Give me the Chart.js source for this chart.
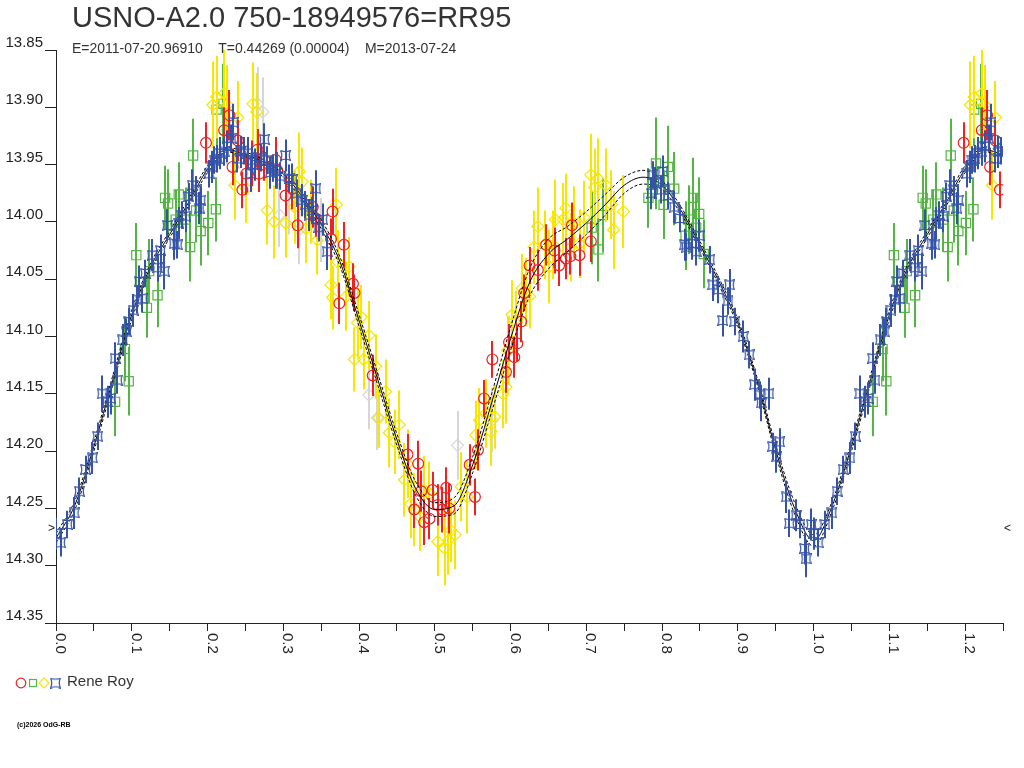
<!DOCTYPE html>
<html>
<head>
<meta charset="utf-8">
<title>USNO-A2.0 750-18949576=RR95</title>
<script src="https://cdn.jsdelivr.net/npm/chart.js@4.4.1/dist/chart.umd.min.js"></script>
<style>
  body { margin: 0; background: #fff; }
  #wrap { position: relative; width: 1024px; height: 768px; font-family: "Liberation Sans", Arial, sans-serif; color: #333; }
  #chart { position: absolute; left: 0; top: 0; }
  .txt { position: absolute; white-space: pre; line-height: 1; }
  #title { left: 72px; top: 3px; font-size: 29px; }
  #sub { left: 72px; top: 41px; font-size: 14px; }
  #who { left: 67px; top: 673px; font-size: 15px; }
  #copy { left: 17px; top: 721px; font-size: 7px; font-weight: bold; color: #000; }
</style>
</head>
<body>
<div id="wrap">
  <canvas id="chart" width="1024" height="768"></canvas>
  <div class="txt" id="title">USNO-A2.0 750-18949576=RR95</div>
  <div class="txt" id="sub">E=2011-07-20.96910    T=0.44269 (0.00004)    M=2013-07-24</div>
  <div class="txt" id="who">Rene Roy</div>
  <div class="txt" id="copy">(c)2026 OdG-RB</div>
</div>
<script>
// observations, phase folded (phase 0..1), one set per observer symbol
const redPhase = [0.198,0.222,0.229,0.233,0.240,0.246,0.251,0.259,0.266,0.268,
  0.275,0.290,0.292,0.303,0.312,0.319,0.339,0.343,0.363,0.365,
  0.374,0.380,0.392,0.394,0.418,0.464,0.473,0.478,0.482,0.486,
  0.493,0.497,0.504,0.510,0.515,0.519,0.546,0.553,0.557,0.565,
  0.576,0.594,0.598,0.605,0.609,0.614,0.618,0.625,0.636,0.647,
  0.658,0.664,0.673,0.679,0.681,0.691,0.706];
const redMag = [13.931,13.920,13.907,13.952,13.929,13.972,13.958,13.949,13.937,13.958,
  13.946,13.946,13.955,13.977,13.971,14.003,13.987,13.997,14.015,13.991,
  14.071,14.020,14.054,14.062,14.134,14.203,14.251,14.211,14.235,14.262,
  14.259,14.234,14.247,14.251,14.232,14.250,14.212,14.240,14.199,14.154,
  14.120,14.131,14.105,14.118,14.106,14.087,14.062,14.038,14.042,14.020,
  14.025,14.038,14.032,14.030,14.003,14.029,14.017];
const redErr = [0.018,0.020,0.022,0.016,0.018,0.016,0.018,0.020,0.018,0.016,
  0.018,0.020,0.016,0.018,0.018,0.020,0.018,0.016,0.018,0.020,
  0.018,0.020,0.018,0.016,0.018,0.018,0.016,0.020,0.018,0.020,
  0.018,0.016,0.018,0.020,0.018,0.022,0.018,0.016,0.018,0.016,
  0.016,0.018,0.016,0.018,0.016,0.018,0.016,0.016,0.018,0.018,
  0.020,0.018,0.018,0.016,0.020,0.018,0.018];

const greenPhase = [0.078,0.091,0.096,0.106,0.120,0.123,0.134,0.144,0.148,0.158,
  0.162,0.171,0.177,0.181,0.185,0.191,0.201,0.211,0.212,0.221,
  0.707,0.716,0.722,0.782,0.792,0.802,0.808,0.816,0.831,0.835,
  0.841,0.845,0.849,0.855];
const greenMag = [14.157,14.111,14.139,14.029,14.075,14.043,14.064,13.979,13.984,13.998,
  13.976,13.998,14.022,13.942,13.990,14.008,14.001,13.989,13.902,13.897,
  14.005,14.024,13.994,13.979,13.949,13.985,13.952,13.971,14.012,13.998,
  13.979,14.005,13.993,14.028];
const greenErr = [0.030,0.028,0.030,0.028,0.026,0.028,0.028,0.028,0.030,0.026,
  0.028,0.028,0.030,0.032,0.028,0.030,0.028,0.028,0.032,0.035,
  0.032,0.028,0.032,0.026,0.040,0.030,0.036,0.032,0.030,0.030,
  0.035,0.030,0.032,0.030];

const yellowPhase = [0.207,0.212,0.222,0.226,0.236,0.240,0.251,0.260,0.265,0.279,
  0.288,0.303,0.315,0.321,0.325,0.330,0.336,0.345,0.363,0.365,
  0.370,0.372,0.383,0.387,0.394,0.398,0.403,0.406,0.413,0.422,
  0.426,0.435,0.440,0.447,0.453,0.460,0.464,0.468,0.473,0.480,
  0.486,0.493,0.504,0.513,0.518,0.521,0.527,0.535,0.543,0.554,
  0.559,0.568,0.574,0.579,0.590,0.594,0.596,0.602,0.607,0.615,
  0.620,0.625,0.631,0.636,0.645,0.651,0.656,0.659,0.669,0.673,
  0.680,0.684,0.691,0.697,0.706,0.711,0.715,0.726,0.733,0.736,
  0.749];
const yellowMag = [13.898,13.891,13.888,13.898,13.968,13.909,13.971,13.897,13.904,13.990,
  14.000,14.001,13.987,13.956,13.965,14.006,13.991,14.016,14.055,14.066,
  13.985,14.035,14.065,14.039,14.120,14.088,14.083,14.120,14.099,14.126,
  14.171,14.148,14.184,14.192,14.177,14.225,14.211,14.246,14.251,14.257,
  14.234,14.237,14.279,14.285,14.278,14.269,14.273,14.231,14.240,14.186,
  14.173,14.167,14.183,14.170,14.150,14.144,14.112,14.081,14.088,14.058,
  14.061,14.065,14.022,14.004,14.020,14.039,14.020,13.998,13.998,13.988,
  14.022,14.001,14.019,13.996,13.959,13.970,13.962,13.968,13.985,14.007,
  13.991];
const yellowErr = [0.038,0.036,0.040,0.035,0.030,0.032,0.030,0.036,0.034,0.030,
  0.032,0.030,0.032,0.034,0.030,0.030,0.028,0.030,0.030,0.028,
  0.032,0.028,0.030,0.026,0.028,0.030,0.028,0.026,0.030,0.028,
  0.026,0.028,0.030,0.028,0.030,0.032,0.030,0.030,0.032,0.030,
  0.030,0.028,0.030,0.032,0.030,0.028,0.030,0.030,0.032,0.030,
  0.028,0.030,0.030,0.028,0.030,0.032,0.030,0.030,0.028,0.030,
  0.030,0.028,0.032,0.034,0.030,0.032,0.030,0.035,0.032,0.030,
  0.030,0.032,0.030,0.032,0.036,0.034,0.035,0.032,0.030,0.034,
  0.032];

const bluePhase = [0.000,0.006,0.015,0.024,0.031,0.039,0.048,0.055,0.061,0.068,
  0.072,0.078,0.081,0.088,0.093,0.096,0.102,0.107,0.110,0.114,
  0.118,0.127,0.134,0.138,0.143,0.147,0.156,0.160,0.162,0.166,
  0.171,0.175,0.180,0.185,0.189,0.191,0.202,0.206,0.209,0.213,
  0.217,0.222,0.226,0.231,0.234,0.239,0.244,0.248,0.253,0.257,
  0.259,0.263,0.270,0.275,0.279,0.283,0.286,0.290,0.296,0.303,
  0.308,0.312,0.318,0.325,0.329,0.334,0.338,0.343,0.347,0.352,
  0.358,
  0.786,0.788,0.790,0.799,0.801,0.808,0.816,0.823,0.830,0.832,
  0.840,0.845,0.849,0.863,0.867,0.874,0.880,0.887,0.889,0.896,
  0.907,0.915,0.922,0.929,0.931,0.941,0.946,0.951,0.955,0.964,
  0.968,0.977,0.982,0.988,0.990,0.997];
const blueMag = [14.272,14.280,14.264,14.254,14.235,14.216,14.206,14.187,14.150,14.157,
  14.154,14.119,14.138,14.103,14.096,14.087,14.077,14.068,14.052,14.067,
  14.045,14.029,14.040,14.025,14.043,14.003,14.019,14.020,14.001,13.994,
  13.995,13.978,13.968,13.972,13.988,13.981,13.958,13.952,13.946,13.945,
  13.940,13.939,13.934,13.927,13.913,13.945,13.939,13.938,13.940,13.958,
  13.946,13.950,13.944,13.928,13.946,13.957,13.953,13.955,13.960,13.942,
  13.962,13.963,13.975,13.981,13.985,13.994,13.990,13.971,14.005,13.998,
  14.026,
  13.975,13.959,13.966,13.972,13.956,13.977,13.987,13.997,14.020,14.022,
  14.019,14.026,14.012,14.033,14.055,14.059,14.086,14.069,14.055,14.087,
  14.100,14.116,14.142,14.151,14.158,14.150,14.196,14.205,14.192,14.240,
  14.263,14.256,14.264,14.285,14.294,14.264];
const blueErr = [0.014,0.012,0.012,0.014,0.012,0.012,0.014,0.012,0.016,0.014,
  0.014,0.014,0.012,0.014,0.012,0.012,0.014,0.012,0.014,0.012,
  0.012,0.014,0.012,0.014,0.016,0.014,0.014,0.012,0.014,0.012,
  0.014,0.012,0.014,0.012,0.014,0.012,0.012,0.014,0.012,0.012,
  0.014,0.012,0.014,0.012,0.016,0.012,0.014,0.012,0.014,0.016,
  0.012,0.014,0.012,0.014,0.012,0.014,0.012,0.016,0.012,0.014,
  0.012,0.014,0.012,0.014,0.012,0.014,0.012,0.016,0.012,0.014,
  0.016,
  0.014,0.012,0.014,0.012,0.014,0.012,0.014,0.012,0.014,0.012,
  0.014,0.012,0.014,0.012,0.014,0.012,0.014,0.012,0.014,0.012,
  0.014,0.012,0.014,0.012,0.016,0.014,0.012,0.014,0.012,0.014,
  0.012,0.014,0.012,0.014,0.016,0.014];

// rejected points (pale grey)
const greyPhase = [0.226,0.266,0.273,0.295,0.308,0.321,0.350,0.413,0.424,0.530,0.576,0.598];
const greyMag = [13.920,13.897,13.904,13.994,13.981,14.007,14.007,14.151,14.171,14.195,14.173,14.112];
const greyErr = [0.030,0.032,0.030,0.028,0.030,0.030,0.028,0.030,0.028,0.030,0.028,0.030];

// fitted light curve and its envelope
const fitPhase = [0.000,0.025,0.050,0.075,0.100,0.125,0.150,0.175,0.200,0.225,
  0.250,0.275,0.300,0.325,0.350,0.375,0.400,0.425,0.450,0.475,
  0.500,0.525,0.550,0.575,0.600,0.625,0.650,0.675,0.700,0.725,
  0.750,0.775,0.800,0.825,0.850,0.875,0.900,0.925,0.950,0.975,
  1.000,1.025,1.050,1.075,1.100,1.125,1.150,1.175,1.200,1.225,1.250];
const fitMag = [14.276,14.247,14.196,14.138,14.081,14.039,14.011,13.983,13.954,13.937,
  13.941,13.948,13.958,13.978,14.002,14.035,14.086,14.138,14.190,14.233,
  14.251,14.248,14.212,14.158,14.102,14.053,14.028,14.015,14.001,13.985,
  13.968,13.961,13.968,13.990,14.020,14.052,14.088,14.138,14.199,14.250,
  14.278,14.247,14.196,14.138,14.081,14.039,14.011,13.983,13.954,13.937,13.941];
const fitUpper = [14.272,14.243,14.192,14.134,14.077,14.036,14.008,13.980,13.951,13.935,
  13.939,13.946,13.955,13.975,13.998,14.031,14.081,14.133,14.185,14.227,
  14.245,14.241,14.205,14.150,14.092,14.041,14.015,14.004,13.991,13.976,
  13.961,13.955,13.964,13.987,14.017,14.049,14.085,14.135,14.195,14.245,
  14.273,14.243,14.192,14.134,14.077,14.036,14.008,13.980,13.951,13.935,13.939];
const fitLower = [14.280,14.251,14.200,14.142,14.085,14.042,14.014,13.986,13.957,13.939,
  13.943,13.950,13.961,13.981,14.006,14.039,14.091,14.143,14.195,14.239,
  14.257,14.255,14.219,14.166,14.112,14.065,14.041,14.026,14.011,13.994,
  13.975,13.967,13.972,13.993,14.023,14.055,14.091,14.141,14.203,14.255,
  14.283,14.251,14.200,14.142,14.085,14.042,14.014,13.986,13.957,13.939,13.943];

const xTickValues = [0,0.05,0.1,0.15,0.2,0.25,0.3,0.35,0.4,0.45,0.5,0.55,0.6,0.65,
  0.7,0.75,0.8,0.85,0.9,0.95,1.0,1.05,1.1,1.15,1.2,1.25];
const xLabelValues = [0,0.1,0.2,0.3,0.4,0.5,0.6,0.7,0.8,0.9,1.0,1.1,1.2];
const xLabels = ['0.0','0.1','0.2','0.3','0.4','0.5','0.6','0.7','0.8','0.9','1.0','1.1','1.2'];
const yTickValues = [13.85,13.90,13.95,14.00,14.05,14.10,14.15,14.20,14.25,14.30,14.35];
const limitMag = 14.268;

const RED = '#ee2222', GREEN = '#55b544', YELLOW = '#f6e600', BLUE = '#3553a8', GREY = '#d6d6d6';
const AXIS = '#222';
const FONT = '"Liberation Sans", Arial, sans-serif';
const PHASE_MAX = 1.25;

// the cycle is shown once more past phase 1
function fold(phase, mag, err) {
  const pts = [];
  phase.forEach((p, i) => {
    pts.push({ x: p, y: mag[i], e: err[i] });
    if (p + 1 <= PHASE_MAX) pts.push({ x: p + 1, y: mag[i], e: err[i] });
  });
  return pts;
}

// blue observer symbol: a square with pinched sides and pointed corners
function makeBlueMark() {
  const c = document.createElement('canvas');
  c.width = 11; c.height = 11;
  const g = c.getContext('2d');
  g.strokeStyle = BLUE;
  g.lineWidth = 1.2;
  g.beginPath();
  g.moveTo(0.5, 0.5);
  g.quadraticCurveTo(5.5, 3, 10.5, 0.5);
  g.quadraticCurveTo(8, 5.5, 10.5, 10.5);
  g.quadraticCurveTo(5.5, 8, 0.5, 10.5);
  g.quadraticCurveTo(3, 5.5, 0.5, 0.5);
  g.stroke();
  return c;
}
const blueMark = makeBlueMark();

function obsSet(label, pts, color, style, radius, order) {
  return {
    label, data: pts, showLine: false, order,
    pointStyle: style, pointRadius: radius, pointHoverRadius: radius,
    pointBorderColor: color, pointBackgroundColor: 'rgba(0,0,0,0)', pointBorderWidth: 1.2,
    errColor: color
  };
}

function fitSet(values, dash) {
  return {
    type: 'line', data: fitPhase.map((p, i) => ({ x: p, y: values[i] })),
    borderColor: '#000', borderWidth: 1, borderDash: dash, pointRadius: 0,
    cubicInterpolationMode: 'monotone', showLine: true, order: 1
  };
}

// vertical error bars, drawn just before each dataset's symbols
const errorBars = {
  id: 'errorBars',
  beforeDatasetDraw(chart, args) {
    const ds = chart.data.datasets[args.index];
    if (!ds.errColor) return;
    const { ctx, chartArea: a, scales: { x, y } } = chart;
    ctx.save();
    ctx.beginPath();
    ctx.rect(a.left, a.top, a.right - a.left, a.bottom - a.top);
    ctx.clip();
    ctx.strokeStyle = ds.errColor;
    ctx.lineWidth = 2;
    ctx.beginPath();
    ds.data.forEach(p => {
      const px = Math.round(x.getPixelForValue(p.x));
      ctx.moveTo(px, y.getPixelForValue(p.y - p.e));
      ctx.lineTo(px, y.getPixelForValue(p.y + p.e));
    });
    ctx.stroke();
    ctx.restore();
  }
};

// rotated phase labels, limit marks and the observer legend
const decorations = {
  id: 'decorations',
  afterDraw(chart) {
    const { ctx, chartArea: a, scales: { x, y } } = chart;
    ctx.save();
    ctx.fillStyle = AXIS;
    ctx.font = '15px ' + FONT;
    ctx.textAlign = 'left';
    ctx.textBaseline = 'alphabetic';
    xLabelValues.forEach((v, i) => {
      ctx.save();
      ctx.translate(x.getPixelForValue(v), a.bottom + 10);
      ctx.rotate(Math.PI / 2);
      ctx.fillText(xLabels[i], 0, 0);
      ctx.restore();
    });

    const ly = y.getPixelForValue(limitMag);
    ctx.font = '12px ' + FONT;
    ctx.textBaseline = 'middle';
    ctx.textAlign = 'right';
    ctx.fillText('>', a.left - 1, ly);
    ctx.textAlign = 'left';
    ctx.fillText('<', a.right + 1, ly);

    const cy = 683;
    ctx.lineWidth = 1.2;
    ctx.strokeStyle = RED;
    ctx.beginPath(); ctx.arc(21, cy, 4.8, 0, Math.PI * 2); ctx.stroke();
    ctx.strokeStyle = GREEN;
    ctx.strokeRect(29.5, cy - 3.5, 7, 7);
    ctx.strokeStyle = YELLOW;
    ctx.beginPath();
    ctx.moveTo(44, cy - 5); ctx.lineTo(49, cy); ctx.lineTo(44, cy + 5); ctx.lineTo(39, cy); ctx.closePath();
    ctx.stroke();
    ctx.drawImage(blueMark, 50, cy - 5.5);
    ctx.restore();
  }
};

Chart.defaults.font.family = FONT;

new Chart(document.getElementById('chart'), {
  type: 'scatter',
  data: {
    datasets: [
      obsSet('blue', fold(bluePhase, blueMag, blueErr), BLUE, blueMark, 5, 0),
      fitSet(fitMag, []),
      fitSet(fitUpper, [3, 2]),
      fitSet(fitLower, [3, 2]),
      obsSet('red', fold(redPhase, redMag, redErr), RED, 'circle', 5.4, 2),
      obsSet('yellow', fold(yellowPhase, yellowMag, yellowErr), YELLOW, 'rectRot', 6, 3),
      obsSet('green', fold(greenPhase, greenMag, greenErr), GREEN, 'rect', 6.5, 4),
      obsSet('grey', fold(greyPhase, greyMag, greyErr), GREY, 'rectRot', 6, 5)
    ]
  },
  options: {
    responsive: false,
    animation: false,
    layout: { padding: { left: 0, right: 21, top: 50, bottom: 0 } },
    plugins: { legend: { display: false }, tooltip: { enabled: false }, title: { display: false } },
    scales: {
      x: {
        type: 'linear', min: 0, max: PHASE_MAX,
        afterBuildTicks: s => { s.ticks = xTickValues.map(v => ({ value: v })); },
        afterFit: s => { s.height = 145; },
        ticks: { display: false },
        grid: { drawOnChartArea: false, tickLength: 8, color: AXIS, lineWidth: 1 },
        border: { color: AXIS, width: 1 }
      },
      y: {
        type: 'linear', reverse: true, min: 13.85, max: 14.35,
        afterBuildTicks: s => { s.ticks = yTickValues.map(v => ({ value: v })); },
        afterFit: s => { s.width = 56; },
        ticks: {
          callback: v => v.toFixed(2), autoSkip: false,
          font: { size: 15 }, color: AXIS, padding: 2, labelOffset: -7
        },
        grid: { drawOnChartArea: false, tickLength: 11, color: AXIS, lineWidth: 1 },
        border: { color: AXIS, width: 1 }
      }
    }
  },
  plugins: [errorBars, decorations]
});
</script>
</body>
</html>
